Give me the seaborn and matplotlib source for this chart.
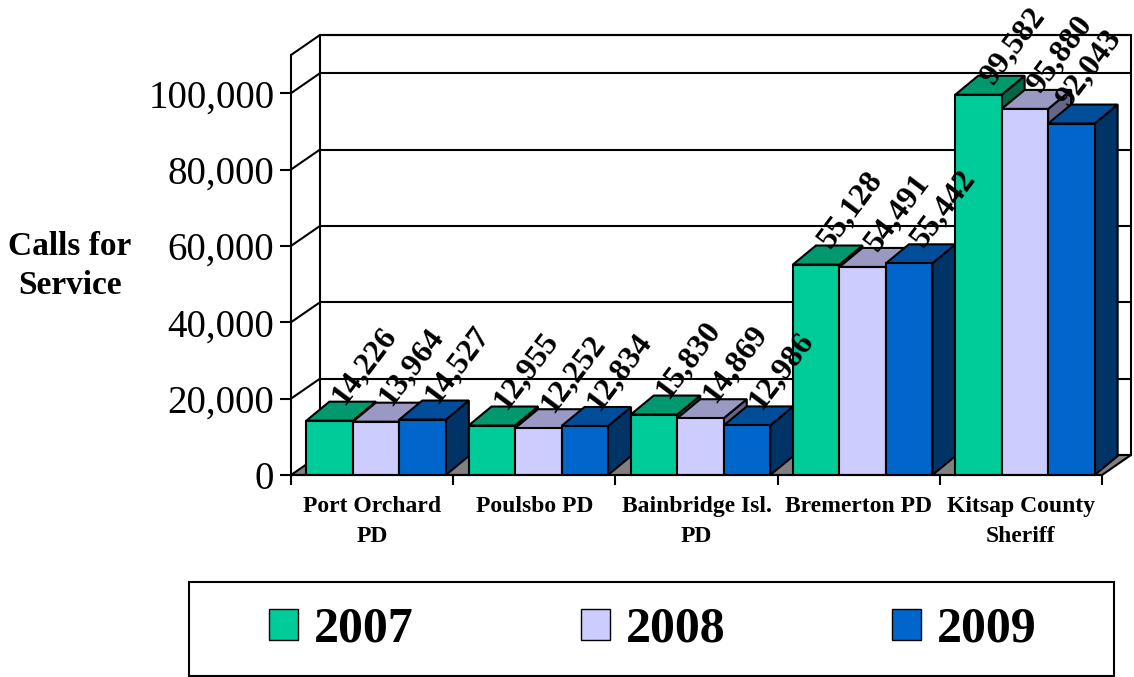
import matplotlib
matplotlib.use('Agg')
import matplotlib.pyplot as plt
import seaborn as sns
import pandas as pd
from matplotlib.patches import Polygon, Patch, Rectangle
from matplotlib.ticker import FuncFormatter

agencies = ["Port Orchard\nPD", "Poulsbo PD", "Bainbridge Isl.\nPD",
            "Bremerton PD", "Kitsap County\nSheriff"]
years = ["2007", "2008", "2009"]
calls_2007 = [14226, 12955, 15830, 55128, 99582]
calls_2008 = [13964, 12252, 14869, 54491, 95880]
calls_2009 = [14527, 12834, 12986, 55442, 92043]
y_ticks = [0, 20000, 40000, 60000, 80000, 100000]
y_max = 110000

front_colors = ["#00CC99", "#CCCCFF", "#0066CC"]
top_colors = ["#00996E", "#9999C4", "#004D99"]
side_colors = ["#006648", "#666688", "#003366"]

df = pd.DataFrame({
    "agency": agencies * 3,
    "year": [y for y in years for _ in agencies],
    "calls": calls_2007 + calls_2008 + calls_2009,
})

sns.set_style("white")
plt.rcParams['font.family'] = ['Liberation Serif', 'DejaVu Serif']
plt.rcParams['text.color'] = 'black'
plt.rcParams['xtick.color'] = 'black'
plt.rcParams['ytick.color'] = 'black'
plt.rcParams['axes.labelcolor'] = 'black'

W, H = 1134, 677
fig = plt.figure(figsize=(W / 100, H / 100), dpi=100)
# front plane of the 3d box, in pixels from the top-left corner
ax_l, ax_r, ax_b, ax_t = 291, 1102, 475, 55
ax = fig.add_axes([ax_l / W, 1 - ax_b / H, (ax_r - ax_l) / W, (ax_b - ax_t) / H])
ax.patch.set_visible(False)

sns.barplot(data=df, x="agency", y="calls", hue="year", palette=front_colors,
            width=0.86, edgecolor="black", linewidth=1.5, saturation=1,
            errorbar=None, legend=False, ax=ax)
ax.set_xlim(-0.5, 4.5)
ax.set_ylim(0, y_max)

# pixel -> data conversion for the fake depth
x_per_px = 5 / (ax_r - ax_l)
y_per_px = y_max / (ax_b - ax_t)
bdx, bdy = 23 * x_per_px, 19 * y_per_px   # bar depth
wdx, wdy = 29 * x_per_px, 20 * y_per_px   # wall depth
# keep tall labels inside the picture
label_top = (ax_b - 86) * y_per_px
label_right = (1068 - ax_l) * x_per_px - 0.5

bars = sorted(ax.patches, key=lambda p: p.get_x())

# floor, back wall, side wall
x0, x1 = -0.5, 4.5
ax.add_patch(Polygon([(x0, 0), (x1, 0), (x1 + wdx, wdy), (x0 + wdx, wdy)],
                     facecolor="#808080", edgecolor="black", lw=1.5,
                     clip_on=False, zorder=0.5))
ax.add_patch(Rectangle((x0 + wdx, wdy), x1 - x0, y_max, fill=False,
                       edgecolor="black", lw=1.5, clip_on=False, zorder=0.4))
for t in y_ticks[1:] + [y_max]:
    ax.plot([x0 + wdx, x1 + wdx], [t + wdy, t + wdy], color="black", lw=1.5,
            clip_on=False, zorder=0.4)
    ax.plot([x0, x0 + wdx], [t, t + wdy], color="black", lw=1.5,
            clip_on=False, zorder=0.4)

# 3d sides, tops and value labels
for i, bar in enumerate(bars):
    k = i % 3
    bar.set_x(bar.get_x() + 4 * x_per_px)
    x, w, h = bar.get_x(), bar.get_width(), bar.get_height()
    z = 2 + i * 0.01
    ax.add_patch(Polygon([(x + w, 0), (x + w, h), (x + w + bdx, h + bdy), (x + w + bdx, bdy)],
                         facecolor=side_colors[k], edgecolor="black", lw=1.5,
                         clip_on=False, zorder=z))
    ax.add_patch(Polygon([(x, h), (x + w, h), (x + w + bdx, h + bdy), (x + bdx, h + bdy)],
                         facecolor=top_colors[k], edgecolor="black", lw=1.5,
                         clip_on=False, zorder=z + 0.001))
    bar.set_zorder(z + 0.002)
    tx = min(x + w - 9 * x_per_px, label_right)
    ty = min(h + bdy - 4 * y_per_px, label_top)
    ax.text(tx, ty, f"{h:,.0f}", rotation=53,
            rotation_mode="anchor", ha="left", va="baseline", fontsize=23,
            fontweight="bold", zorder=10, clip_on=False)

ax.set_yticks(y_ticks)
ax.yaxis.set_major_formatter(FuncFormatter(lambda v, p: f"{v:,.0f}"))
ax.tick_params(axis="y", left=True, length=8, width=1.5, direction="out",
               pad=4, labelsize=28)
ax.set_xticks(range(5))
ax.set_xticklabels(agencies)
ax.set_xticks([x0 + i for i in range(6)], minor=True)
ax.tick_params(axis="x", which="major", length=0, pad=15, labelsize=17)
ax.tick_params(axis="x", which="minor", bottom=True, length=7, width=1.5,
               direction="out")
for lbl in ax.get_xticklabels():
    lbl.set_fontweight("bold")
    lbl.set_linespacing(1.6)
ax.set_xlabel("")
ax.set_ylabel("")
for s in ["top", "right"]:
    ax.spines[s].set_visible(False)
for s in ["left", "bottom"]:
    ax.spines[s].set_color("black")
    ax.spines[s].set_linewidth(1.5)

fig.text(70 / W, 1 - 266 / H, "Calls for\nService", ha="center", va="center",
         fontsize=24, fontweight="bold", linespacing=1.3)

handles = [Patch(facecolor=c, edgecolor="black", lw=1) for c in front_colors]
fig.legend(handles, years, loc="center", bbox_to_anchor=(653 / W, 1 - 630 / H),
           ncol=3, frameon=False, prop={"size": 36, "weight": "bold"},
           handlelength=0.58, handleheight=0.56, handletextpad=0.32,
           columnspacing=3.34)
fig.add_artist(Rectangle((189 / W, 1 - 676 / H), (1114 - 189) / W, (676 - 582) / H,
                         transform=fig.transFigure, fill=False,
                         edgecolor="black", lw=1.5))

fig.savefig("out.png", dpi=100)
